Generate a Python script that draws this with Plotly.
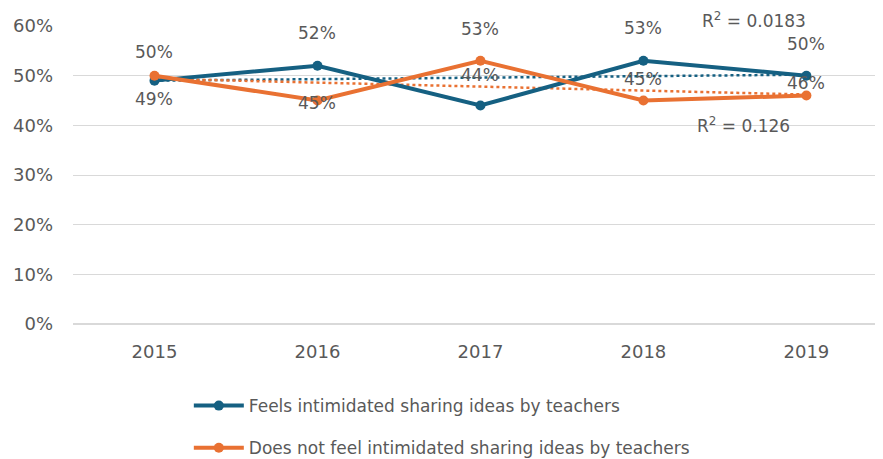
import plotly.graph_objects as go
import numpy as np

# Data
years = ["2015", "2016", "2017", "2018", "2019"]
feels = [49, 52, 44, 53, 50]
not_feels = [50, 45, 53, 45, 46]
names = ["Feels intimidated sharing ideas by teachers",
         "Does not feel intimidated sharing ideas by teachers"]

blue = "#156082"
orange = "#E97132"
txt = "#595959"
font = "DejaVu Sans"
fs = 17

fig = go.Figure()

series = [(feels, blue, names[0]), (not_feels, orange, names[1])]

# dotted linear trend lines (drawn first, underneath)
r2 = []
for vals, col, nm in series:
    xi = np.arange(len(vals))
    slope, icpt = np.polyfit(xi, vals, 1)
    fit = slope * xi + icpt
    ss_res = np.sum((np.array(vals) - fit) ** 2)
    ss_tot = np.sum((np.array(vals) - np.mean(vals)) ** 2)
    r2.append(1 - ss_res / ss_tot)
    fig.add_trace(go.Scatter(x=years, y=fit, mode="lines",
                             line=dict(color=col, width=2.5, dash="dot"),
                             showlegend=False, hoverinfo="skip"))

for i, (vals, col, nm) in enumerate(series):
    fig.add_trace(go.Scatter(x=years, y=vals, mode="lines+markers", name=nm,
                             legendgroup=str(i),
                             line=dict(color=col, width=4),
                             marker=dict(color=col, size=10)))

# data labels (vertical offsets in px)
blue_shift = [-18, 33, 30, 33, 32]
orange_shift = [24, -2, 32, 22, 13]
for vals, shifts in [(feels, blue_shift), (not_feels, orange_shift)]:
    for i, (v, s) in enumerate(zip(vals, shifts)):
        fig.add_annotation(x=i, y=v, text=f"{v}%", showarrow=False, yshift=s,
                           font=dict(family=font, size=fs, color=txt))

# R² labels
fig.add_annotation(x=0.841, y=1.02, xref="paper", yref="paper",
                   xanchor="center", yanchor="middle",
                   text=f"R<sup>2</sup> = {r2[0]:.4f}", showarrow=False,
                   font=dict(family=font, size=fs, color=txt))
fig.add_annotation(x=0.828, y=0.668, xref="paper", yref="paper",
                   xanchor="center", yanchor="middle",
                   text=f"R<sup>2</sup> = {r2[1]:.3f}", showarrow=False,
                   font=dict(family=font, size=fs, color=txt))

# page body has an 8px margin, so the figure is shifted by 8px
fig.update_layout(
    width=875, height=451,
    margin=dict(l=65, r=0, t=18, b=135, autoexpand=False),
    paper_bgcolor="white", plot_bgcolor="white",
    font=dict(family=font, size=fs, color=txt),
    showlegend=True,
    legend=dict(orientation="v", x=0.143, xanchor="left", y=-0.215, yanchor="top",
                tracegroupgap=17, font=dict(family=font, size=fs, color=txt),
                itemwidth=50),
    xaxis=dict(type="category", range=[-0.5, 4.47], showgrid=False,
               showline=False, ticks="", ticklabelstandoff=15,
               tickfont=dict(size=18, color=txt)),
    yaxis=dict(range=[0, 60], dtick=10, ticksuffix="%", showgrid=True,
               gridcolor="#D9D9D9", gridwidth=1, zeroline=True,
               zerolinecolor="#D9D9D9", showline=False, ticks="",
               ticklabelstandoff=19, tickfont=dict(size=18, color=txt)),
)

fig.write_html("out.html")
